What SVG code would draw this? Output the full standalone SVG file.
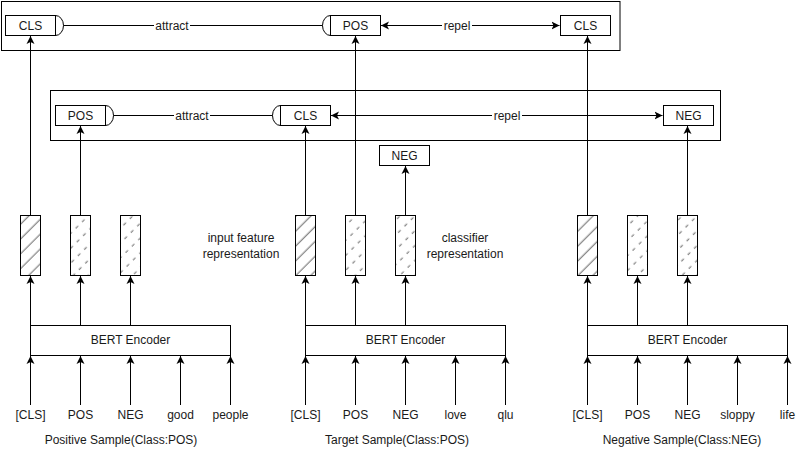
<svg xmlns="http://www.w3.org/2000/svg" width="808" height="456" viewBox="0 0 808 456">
<style>
text{font-family:"Liberation Sans",Arial,sans-serif;font-size:12px;fill:#1a1a1a;text-anchor:middle}
.box{fill:#fff;stroke:#000;stroke-width:1}
.cont{fill:none;stroke:#000;stroke-width:1}
.ln{fill:none;stroke:#000;stroke-width:1}
.arr{marker-end:url(#ah)}
.dbl{marker-start:url(#ah);marker-end:url(#ah)}
.lbl{fill:#fff;stroke:none}
.solid{fill:url(#hs);stroke:#000}
.dash{fill:url(#hd);stroke:#000}
</style>
<defs>
<marker id="ah" markerWidth="9" markerHeight="9" refX="8" refY="4.5" orient="auto-start-reverse" markerUnits="userSpaceOnUse">
<path d="M0,0.5 L8,4.5 L0,8.5 L2,4.5 Z" fill="#000"/>
</marker>
<pattern id="hs" width="10.5" height="10.5" patternUnits="userSpaceOnUse" patternTransform="rotate(-45)">
<rect width="10.5" height="10.5" fill="#fff"/>
<line x1="0" y1="5" x2="10.5" y2="5" stroke="#666" stroke-width="1"/>
</pattern>
<pattern id="hd" width="9" height="10.5" patternUnits="userSpaceOnUse" patternTransform="rotate(-45)">
<rect width="9" height="10.5" fill="#fff"/>
<line x1="0" y1="5" x2="3.5" y2="5" stroke="#666" stroke-width="1"/>
</pattern>
</defs>

<g id="containers">
<rect id="top-container" class="cont" x="1.5" y="1.5" width="618.5" height="49"/>
<rect id="mid-container" class="cont" x="50.5" y="90.5" width="670" height="50"/>
</g>

<g id="connectors">
<path class="ln" d="M55.5,15.5 A8,10 0 0 1 55.5,35.5"/>
<path class="ln" d="M63.5,25.5 H322.5"/>
<path class="ln" d="M330.5,15.5 A8,10 0 0 0 330.5,35.5"/>
<path class="ln dbl" d="M381,25.5 H559.5"/>
<path class="ln" d="M105.5,105.5 A8,10 0 0 1 105.5,125.5"/>
<path class="ln" d="M113.5,115.5 H272.5"/>
<path class="ln" d="M280.5,105.5 A8,10 0 0 0 280.5,125.5"/>
<path class="ln dbl" d="M331,115.5 H662.5"/>
<path class="ln arr" d="M30.5,215 V36"/>
<path class="ln arr" d="M80.5,215 V126"/>
<path class="ln arr" d="M305.5,215 V126"/>
<path class="ln arr" d="M355.5,215 V36"/>
<path class="ln arr" d="M405.5,215 V166"/>
<path class="ln arr" d="M587.5,215 V36"/>
<path class="ln arr" d="M687.5,215 V126"/>
<path class="ln arr" d="M30.5,325 V276"/>
<path class="ln arr" d="M80.5,325 V276"/>
<path class="ln arr" d="M130.5,325 V276"/>
<path class="ln arr" d="M305.5,325 V276"/>
<path class="ln arr" d="M355.5,325 V276"/>
<path class="ln arr" d="M405.5,325 V276"/>
<path class="ln arr" d="M587.5,325 V276"/>
<path class="ln arr" d="M637.5,325 V276"/>
<path class="ln arr" d="M687.5,325 V276"/>
<path class="ln arr" d="M30.5,405 V356"/>
<path class="ln arr" d="M80.5,405 V356"/>
<path class="ln arr" d="M130.5,405 V356"/>
<path class="ln arr" d="M180.5,405 V356"/>
<path class="ln arr" d="M230.5,405 V356"/>
<path class="ln arr" d="M305.5,405 V356"/>
<path class="ln arr" d="M355.5,405 V356"/>
<path class="ln arr" d="M405.5,405 V356"/>
<path class="ln arr" d="M455.5,405 V356"/>
<path class="ln arr" d="M505.5,405 V356"/>
<path class="ln arr" d="M587.5,405 V356"/>
<path class="ln arr" d="M637.5,405 V356"/>
<path class="ln arr" d="M687.5,405 V356"/>
<path class="ln arr" d="M737.5,405 V356"/>
<path class="ln arr" d="M787.5,405 V356"/>
<rect class="lbl" x="154" y="18" width="36" height="14"/>
<text x="172" y="29.5">attract</text>
<rect class="lbl" x="442" y="18" width="30" height="14"/>
<text x="457" y="29.5">repel</text>
<rect class="lbl" x="174" y="108" width="36" height="14"/>
<text x="192" y="119.5">attract</text>
<rect class="lbl" x="492" y="108" width="30" height="14"/>
<text x="507" y="119.5">repel</text>
</g>

<g id="node-top-cls"><rect class="box" x="5.5" y="15.5" width="50" height="20"/><text x="30.5" y="29.5">CLS</text></g>
<g id="node-top-pos"><rect class="box" x="330.5" y="15.5" width="50" height="20"/><text x="355.5" y="29.5">POS</text></g>
<g id="node-top-cls2"><rect class="box" x="560.5" y="15.5" width="50" height="20"/><text x="585.5" y="29.5">CLS</text></g>

<g id="node-mid-pos"><rect class="box" x="55.5" y="105.5" width="50" height="20"/><text x="80.5" y="119.5">POS</text></g>
<g id="node-mid-cls"><rect class="box" x="280.5" y="105.5" width="50" height="20"/><text x="305.5" y="119.5">CLS</text></g>
<g id="node-mid-neg"><rect class="box" x="663.5" y="105.5" width="50" height="20"/><text x="688.5" y="119.5">NEG</text></g>
<g id="node-cls-neg"><rect class="box" x="379.5" y="145.5" width="50" height="20"/><text x="404.5" y="159.5">NEG</text></g>

<g id="bars-pos">
<rect class="solid" x="20.5" y="215.5" width="20" height="60"/>
<rect class="dash" x="70.5" y="215.5" width="20" height="60"/>
<rect class="dash" x="120.5" y="215.5" width="20" height="60"/>
</g>
<g id="bars-target">
<rect class="solid" x="295.5" y="215.5" width="20" height="60"/>
<rect class="dash" x="345.5" y="215.5" width="20" height="60"/>
<rect class="dash" x="395.5" y="215.5" width="20" height="60"/>
</g>
<g id="bars-neg">
<rect class="solid" x="577.5" y="215.5" width="20" height="60"/>
<rect class="dash" x="627.5" y="215.5" width="20" height="60"/>
<rect class="dash" x="677.5" y="215.5" width="20" height="60"/>
</g>

<g id="label-input"><text x="241" y="241.5">input feature</text><text x="241" y="257.5">representation</text></g>
<g id="label-classifier"><text x="465" y="241.5">classifier</text><text x="465" y="257.5">representation</text></g>

<g id="encoder-pos"><rect class="box" x="30.5" y="325.5" width="200" height="30"/><text x="130.5" y="344">BERT Encoder</text></g>
<g id="encoder-target"><rect class="box" x="305.5" y="325.5" width="200" height="30"/><text x="405.5" y="344">BERT Encoder</text></g>
<g id="encoder-neg"><rect class="box" x="587.5" y="325.5" width="200" height="30"/><text x="687.5" y="344">BERT Encoder</text></g>

<g id="tokens-pos">
<text x="30.5" y="418.5">[CLS]</text><text x="80.5" y="418.5">POS</text><text x="130.5" y="418.5">NEG</text><text x="180.5" y="418.5">good</text><text x="230.5" y="418.5">people</text>
<text x="121" y="444">Positive Sample(Class:POS)</text>
</g>
<g id="tokens-target">
<text x="305.5" y="418.5">[CLS]</text><text x="355.5" y="418.5">POS</text><text x="405.5" y="418.5">NEG</text><text x="455.5" y="418.5">love</text><text x="505.5" y="418.5">qlu</text>
<text x="397" y="444">Target Sample(Class:POS)</text>
</g>
<g id="tokens-neg">
<text x="587.5" y="418.5">[CLS]</text><text x="637.5" y="418.5">POS</text><text x="687.5" y="418.5">NEG</text><text x="737.5" y="418.5">sloppy</text><text x="787.5" y="418.5">life</text>
<text x="682" y="444">Negative Sample(Class:NEG)</text>
</g>
</svg>
